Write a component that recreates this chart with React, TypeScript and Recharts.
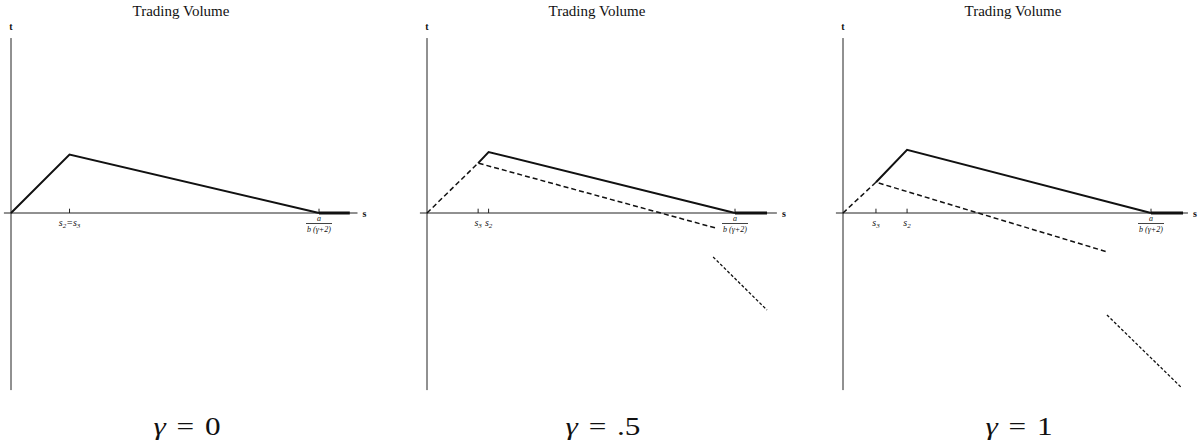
import React from "react";
import { LineChart, Line, XAxis, YAxis, ReferenceLine, ReferenceDot } from "recharts";

type Pt = { s: number; t: number };

// shared geometry: every panel uses the same scale on s and t
const PANEL_W = 416;
const PANEL_H = 444;
const UNIT = 308; // px per unit
const ORIGIN_X = 11;
const ORIGIN_Y = 213;

// s = a / (b (γ+2)) is put at 1
const CUTOFF = 1;
const T_AXIS_TOP = 0.568;
const T_AXIS_BOTTOM = -0.575;
const S_AXIS_START = -0.023;

// γ = 0
const solidZero: Pt[] = [
  { s: 0, t: 0 },
  { s: 0.19, t: 0.19 },
  { s: 1, t: 0 },
];
const tailZero: Pt[] = [
  { s: 1, t: 0 },
  { s: 1.1, t: 0 },
];

// γ = .5
const solidHalf: Pt[] = [
  { s: 0.166, t: 0.162 },
  { s: 0.2, t: 0.198 },
  { s: 1, t: 0 },
];
const dashedHalf: Pt[] = [
  { s: 0, t: 0 },
  { s: 0.166, t: 0.162 },
  { s: 0.938, t: -0.049 },
];
const steepHalf: Pt[] = [
  { s: 0.929, t: -0.143 },
  { s: 1.104, t: -0.315 },
];
const tailHalf: Pt[] = [
  { s: 1, t: 0 },
  { s: 1.104, t: 0 },
];

// γ = 1
const solidOne: Pt[] = [
  { s: 0.107, t: 0.1 },
  { s: 0.208, t: 0.205 },
  { s: 1, t: 0 },
];
const dashedOne: Pt[] = [
  { s: 0, t: 0 },
  { s: 0.107, t: 0.1 },
  { s: 0.86, t: -0.127 },
];
const steepOne: Pt[] = [
  { s: 0.857, t: -0.331 },
  { s: 1.1, t: -0.568 },
];
const tailOne: Pt[] = [
  { s: 1, t: 0 },
  { s: 1.104, t: 0 },
];

const gammaLabels = ["0", ".5", "1"];
const axisEnds = [1.125, 1.136, 1.12];

type Tick = { s: number; subs: string[] };
const ticksZero: Tick[] = [{ s: 0.19, subs: ["2", "3"] }];
const ticksHalf: Tick[] = [
  { s: 0.166, subs: ["3"] },
  { s: 0.2, subs: ["2"] },
];
const ticksOne: Tick[] = [
  { s: 0.107, subs: ["3"] },
  { s: 0.208, subs: ["2"] },
];

const panels = [
  { solid: solidZero, dashed: null, steep: null, tail: tailZero, ticks: ticksZero },
  { solid: solidHalf, dashed: dashedHalf, steep: steepHalf, tail: tailHalf, ticks: ticksHalf },
  { solid: solidOne, dashed: dashedOne, steep: steepOne, tail: tailOne, ticks: ticksOne },
];

const SERIF = "Liberation Serif, Times New Roman, DejaVu Serif, serif";
const INK = "#111";

function TickLabel(props: any) {
  const { viewBox, subs } = props;
  const x = viewBox.x + viewBox.width / 2;
  const y = viewBox.y + viewBox.height / 2 + 13;
  return (
    <text x={x} y={y} textAnchor="middle" fontFamily={SERIF} fontStyle="italic" fontSize={10} fill={INK}>
      {subs.map((d: string, i: number) => (
        <React.Fragment key={i}>
          <tspan dy={i === 0 ? 0 : -2}>{i === 0 ? "s" : "=s"}</tspan>
          <tspan dy={2} fontSize={7}>
            {d}
          </tspan>
        </React.Fragment>
      ))}
    </text>
  );
}

function FracLabel(props: any) {
  const { viewBox } = props;
  const x = viewBox.x + viewBox.width / 2;
  const y = viewBox.y + viewBox.height / 2;
  return (
    <g fontFamily={SERIF} fontStyle="italic" fontSize={8} fill={INK}>
      <text x={x} y={y + 8} textAnchor="middle">
        a
      </text>
      <line x1={x - 13} x2={x + 13} y1={y + 10.5} y2={y + 10.5} stroke={INK} strokeWidth={0.8} />
      <text x={x} y={y + 18.5} textAnchor="middle">
        b (γ+2)
      </text>
    </g>
  );
}

function AxisName(props: any) {
  const { viewBox, text, dx, dy } = props;
  const x = viewBox.x + viewBox.width / 2 + dx;
  const y = viewBox.y + viewBox.height / 2 + dy;
  return (
    <text x={x} y={y} textAnchor="middle" fontFamily={SERIF} fontWeight="bold" fontSize={10} fill={INK}>
      {text}
    </text>
  );
}

function Panel({ idx }: { idx: number }) {
  const p = panels[idx];
  const xDomain = [-ORIGIN_X / UNIT, (PANEL_W - ORIGIN_X) / UNIT];
  const yDomain = [-(PANEL_H - ORIGIN_Y) / UNIT, ORIGIN_Y / UNIT];
  const axisEnd = axisEnds[idx];
  return (
    <div style={{ position: "absolute", left: idx * PANEL_W, top: 0, width: PANEL_W, height: PANEL_H }}>
      <LineChart width={PANEL_W} height={PANEL_H} margin={{ top: 0, right: 0, bottom: 0, left: 0 }}>
        <XAxis type="number" dataKey="s" domain={xDomain} allowDataOverflow hide />
        <YAxis type="number" dataKey="t" domain={yDomain} allowDataOverflow hide />
        <ReferenceLine
          segment={[
            { x: 0, y: T_AXIS_TOP },
            { x: 0, y: T_AXIS_BOTTOM },
          ]}
          stroke="#222"
          strokeWidth={1}
        />
        <ReferenceLine
          segment={[
            { x: S_AXIS_START, y: 0 },
            { x: axisEnd, y: 0 },
          ]}
          stroke="#222"
          strokeWidth={1}
        />
        {[...p.ticks.map((tk) => tk.s), CUTOFF].map((s, i) => (
          <ReferenceLine
            key={"tk" + i}
            segment={[
              { x: s, y: 0 },
              { x: s, y: 0.014 },
            ]}
            stroke="#222"
            strokeWidth={1}
          />
        ))}
        {p.tail && (
          <Line data={p.tail} dataKey="t" type="linear" stroke={INK} strokeWidth={3} dot={false} activeDot={false} isAnimationActive={false} />
        )}
        {p.dashed && (
          <Line data={p.dashed} dataKey="t" type="linear" stroke={INK} strokeWidth={1.5} strokeDasharray="5 3" dot={false} activeDot={false} isAnimationActive={false} />
        )}
        {p.steep && (
          <Line data={p.steep} dataKey="t" type="linear" stroke={INK} strokeWidth={1.3} strokeDasharray="3 2" dot={false} activeDot={false} isAnimationActive={false} />
        )}
        <Line data={p.solid} dataKey="t" type="linear" stroke={INK} strokeWidth={2} dot={false} activeDot={false} isAnimationActive={false} />
        {p.ticks.map((tk, i) => (
          <ReferenceDot key={"tl" + i} x={tk.s} y={0} r={0} fill="none" stroke="none" label={<TickLabel subs={tk.subs} />} />
        ))}
        <ReferenceDot x={CUTOFF} y={0} r={0} fill="none" stroke="none" label={<FracLabel />} />
        <ReferenceDot x={0} y={T_AXIS_TOP} r={0} fill="none" stroke="none" label={<AxisName text="t" dx={0} dy={-8} />} />
        <ReferenceDot x={axisEnd} y={0} r={0} fill="none" stroke="none" label={<AxisName text="s" dx={7} dy={4} />} />
      </LineChart>
      <div
        style={{
          position: "absolute",
          left: 181 - 100,
          top: 4,
          width: 200,
          textAlign: "center",
          fontFamily: SERIF,
          fontSize: 15,
          lineHeight: "15px",
          color: INK,
        }}
      >
        Trading Volume
      </div>
      <div
        style={{
          position: "absolute",
          left: 187 - 100,
          top: 412,
          width: 200,
          textAlign: "center",
          fontFamily: SERIF,
          fontSize: 26,
          lineHeight: "30px",
          color: INK,
          transform: "scaleX(1.2)",
        }}
      >
        <i>γ</i>
        <span style={{ margin: "0 9px" }}>=</span>
        {gammaLabels[idx]}
      </div>
    </div>
  );
}

export default function App() {
  return (
    <div
      style={{
        position: "absolute",
        left: 0,
        top: 0,
        width: 1198,
        height: 444,
        overflow: "hidden",
        background: "#fff",
      }}
    >
      {panels.map((_, i) => (
        <Panel key={i} idx={i} />
      ))}
    </div>
  );
}
